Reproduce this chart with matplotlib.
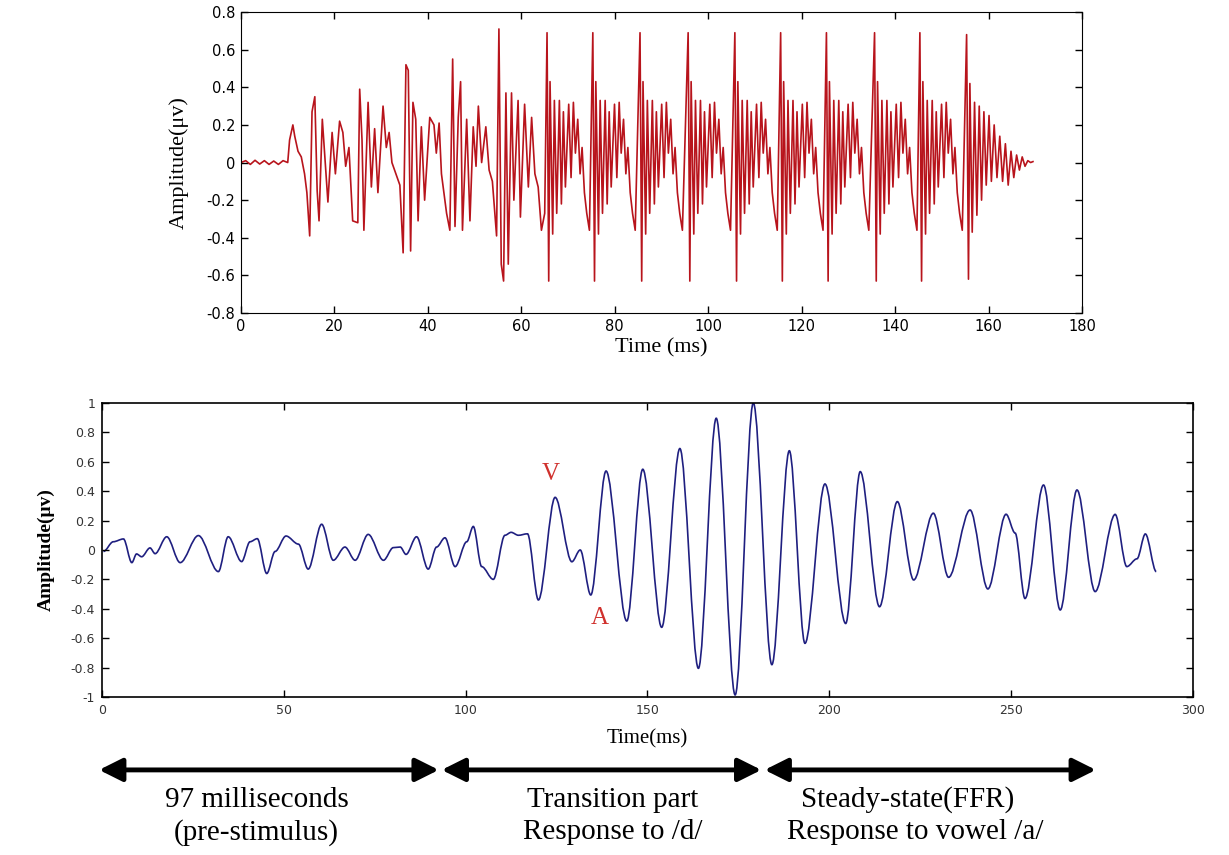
import numpy as np
import matplotlib
matplotlib.use("Agg")
import matplotlib.pyplot as plt
from matplotlib.path import Path
from matplotlib.patches import PathPatch

# ---- top panel: stimulus waveform (/da/), extrema ----
# baseline + transition (0 - 65 ms)
stim_t = [0, 1, 2, 3, 4, 5, 6, 7, 8, 9, 10,
          10.4, 11.1, 11.5, 12.2, 12.9, 13.6, 14.1, 14.7, 15.2, 15.8, 16.3, 16.7, 17.4, 18.6,
          19.5, 20.2, 21.1, 21.8, 22.4, 23.1, 23.9, 25.0, 25.4, 25.9, 26.3, 27.2, 27.9, 28.6,
          29.3, 30.4, 31.1, 31.7, 32.3, 33.3, 34.0, 34.7, 35.3, 35.8, 36.3, 36.8, 37.4, 37.9,
          38.6, 39.3, 40.4, 41.3, 41.8, 42.4, 42.9, 44.0, 44.7, 45.3, 45.8, 46.5, 47.0, 47.4,
          48.3, 49.0, 49.7, 50.3, 50.8, 51.5, 52.4, 53.1, 53.8, 54.7, 55.2, 55.7, 56.2, 56.7,
          57.2, 57.9, 58.4, 59.3, 59.8, 60.7, 61.5, 62.2, 62.9, 63.6, 64.3, 65.0]
stim_amp = [0.0, 0.01, -0.01, 0.012, -0.008, 0.01, -0.01, 0.008, -0.01, 0.01, 0.0,
            0.12, 0.2, 0.14, 0.06, 0.03, -0.06, -0.16, -0.39, 0.27, 0.35, -0.15, -0.31, 0.23, -0.21,
            0.16, -0.06, 0.22, 0.16, -0.02, 0.08, -0.31, -0.32, 0.39, 0.12, -0.36, 0.32, -0.13, 0.18,
            -0.16, 0.3, 0.08, 0.16, 0.0, -0.07, -0.12, -0.48, 0.52, 0.49, -0.47, 0.32, 0.23, -0.31,
            0.19, -0.2, 0.24, 0.2, 0.05, 0.21, -0.06, -0.27, -0.36, 0.55, -0.34, 0.24, 0.43, -0.36,
            0.23, -0.31, 0.19, -0.02, 0.3, 0.0, 0.19, -0.04, -0.1, -0.39, 0.71, -0.54, -0.63, 0.37,
            -0.54, 0.37, -0.2, 0.33, -0.29, 0.31, -0.13, 0.24, -0.06, -0.13, -0.36, -0.27]

# steady-state: one pitch period shape (ms after the big spike) and the spike times
period_t = [0, 0.36, 0.64, 1.21, 1.57, 2.07, 2.64, 3.07, 3.5, 3.93,
            4.64, 5.14, 5.64, 6.07, 6.57, 7.07, 7.5, 8.0, 8.5, 9.07]
period_amp = [0.69, -0.63, 0.43, -0.38, 0.33, -0.27, 0.33, -0.22, 0.27, -0.13,
              0.31, -0.08, 0.32, 0.05, 0.23, -0.06, 0.08, -0.16, -0.27, -0.36]
spike_times = [65.5, 75.3, 85.4, 95.7, 105.7, 115.5, 125.3, 135.6, 145.3]

# last period, dying out
tail_t = [155.3, 155.7, 156.0, 156.5, 157.0, 157.5, 158.0, 158.5, 159.0, 159.5, 160.1, 160.6,
          161.2, 161.8, 162.4, 163.0, 163.6, 164.2, 164.8, 165.4, 166.0, 166.6, 167.2, 167.8,
          168.4, 169.0, 169.5]
tail_amp = [0.68, -0.62, 0.42, -0.37, 0.32, -0.28, 0.3, -0.2, 0.27, -0.12, 0.25, -0.1,
            0.2, -0.08, 0.14, -0.1, 0.1, -0.12, 0.06, -0.08, 0.04, -0.04, 0.03, -0.02,
            0.01, 0.0, 0.005]

# ---- bottom panel: brainstem response, extrema ----
resp_t = [0.4, 3.1, 5.9, 8.2, 9.5, 10.9, 13.2, 14.6, 17.8, 21.5, 26.5, 32.0, 34.7, 38.4,
          40.7, 42.7, 45.3, 47.6, 50.6, 54.0, 56.7, 60.4, 63.6, 66.8, 69.6, 73.2, 77.4, 80.1,
          82.0, 83.6, 86.5, 89.7, 92.0, 94.3, 97.1, 100.3, 102.1, 104.4, 107.6, 110.8, 112.5,
          114.5, 117.0, 120.0, 124.6, 129.2, 131.5, 134.4, 138.6, 144.3, 148.7, 153.9, 158.9,
          164.0, 168.9, 174.1, 179.1, 184.2, 189.0, 193.3, 198.8, 204.5, 208.5, 213.8, 218.7,
          223.2, 228.6, 232.8, 238.7, 243.6, 248.6, 251.1, 253.8, 258.9, 263.5, 268.1, 273.1,
          278.6, 281.8, 284.6, 286.9, 289.9]
resp_amp = [-0.01, 0.056, 0.075, -0.086, -0.027, -0.046, 0.014, -0.025, 0.09, -0.086, 0.098,
            -0.147, 0.09, -0.079, 0.056, 0.077, -0.16, -0.01, 0.095, 0.04, -0.13, 0.175, -0.07,
            0.02, -0.07, 0.106, -0.07, 0.016, 0.02, -0.03, 0.09, -0.13, 0.02, 0.083, -0.113,
            0.056, 0.16, -0.113, -0.2, 0.1, 0.12, 0.1, 0.11, -0.34, 0.358, -0.08, 0.0, -0.306,
            0.537, -0.483, 0.549, -0.526, 0.69, -0.805, 0.896, -0.986, 1.0, -0.78, 0.675, -0.635,
            0.449, -0.5, 0.533, -0.386, 0.329, -0.204, 0.25, -0.186, 0.272, -0.265, 0.243, 0.115,
            -0.33, 0.442, -0.408, 0.408, -0.283, 0.242, -0.113, -0.06, 0.109, -0.147]

top_yticks = [-0.8, -0.6, -0.4, -0.2, 0, 0.2, 0.4, 0.6, 0.8]
top_ylabels = ['-0.8', '-0.6', '-0.4', '-0.2', '0', '0.2', '0.4', '0.6', '0.8']
top_xticks = [0, 20, 40, 60, 80, 100, 120, 140, 160, 180]
bot_yticks = [-1, -0.8, -0.6, -0.4, -0.2, 0, 0.2, 0.4, 0.6, 0.8, 1]
bot_ylabels = ['-1', '-0.8', '-0.6', '-0.4', '-0.2', '0', '0.2', '0.4', '0.6', '0.8', '1']
bot_xticks = [0, 50, 100, 150, 200, 250, 300]

segments = [(-0.8, 92.6), (93.4, 181.3), (182.2, 273.3)]
seg_line1 = ['97 milliseconds', 'Transition part', 'Steady-state(FFR)']
seg_line2 = ['(pre-stimulus)', 'Response to /d/', 'Response to vowel /a/']
seg_x1 = [42.5, 140.5, 221.5]
seg_x2 = [42.5, 140.5, 223.5]

# build the stimulus trace
t_all = list(stim_t)
a_all = list(stim_amp)
for s in spike_times:
    t_all += [s + d for d in period_t]
    a_all += period_amp
t_all += tail_t
a_all += tail_amp

serif = ['Liberation Serif', 'DejaVu Serif']

fig = plt.figure(figsize=(12.29, 8.55), dpi=100)

# top panel
ax1 = fig.add_axes([0.1961, 0.6339, 0.6843, 0.3520])
ax1.plot(t_all, a_all, color='#b8141c', lw=1.2)
ax1.set_xlim(0, 180)
ax1.set_ylim(-0.8, 0.8)
ax1.set_xticks(top_xticks)
ax1.set_yticks(top_yticks)
ax1.set_yticklabels(top_ylabels)
ax1.tick_params(direction='in', top=True, right=True, length=5, width=1,
                labelsize=10.5, pad=4)
ax1.set_xlabel('Time (ms)', family=serif, fontsize=16)
ax1.set_ylabel('Amplitude(μv)', family=serif, fontsize=16)
ax1.xaxis.set_label_coords(0.5, -0.085)
ax1.yaxis.set_label_coords(-0.062, 0.5)

# bottom panel
ax2 = fig.add_axes([0.0830, 0.1848, 0.8877, 0.3439])
# smooth trace through the read extrema (flat tangent at each read point)
verts = [(resp_t[0], resp_amp[0])]
codes = [Path.MOVETO]
for i in range(len(resp_t) - 1):
    dt = resp_t[i + 1] - resp_t[i]
    verts += [(resp_t[i] + dt / 3, resp_amp[i]),
              (resp_t[i + 1] - dt / 3, resp_amp[i + 1]),
              (resp_t[i + 1], resp_amp[i + 1])]
    codes += [Path.CURVE4] * 3
ax2.add_patch(PathPatch(Path(verts, codes), fill=False, edgecolor='#1f1f80', lw=1.2))
ax2.set_xlim(0, 300)
ax2.set_ylim(-1, 1)
ax2.set_xticks(bot_xticks)
ax2.set_yticks(bot_yticks)
ax2.set_yticklabels(bot_ylabels)
ax2.tick_params(direction='in', top=True, right=True, length=5, width=1,
                labelsize=9, labelcolor='#333333', pad=5)
ax2.set_xlabel('Time(ms)', family=serif, fontsize=15)
ax2.set_ylabel('Amplitude(μv)', family=serif, fontsize=14, fontweight='bold')
ax2.xaxis.set_label_coords(0.5, -0.11)
ax2.yaxis.set_label_coords(-0.043, 0.5)
for sp in ax2.spines.values():
    sp.set_linewidth(1.2)

ax2.text(123.3, 0.52, 'V', color='#d0312d', family=serif, fontsize=18, ha='center', va='center')
ax2.text(136.9, -0.46, 'A', color='#d0312d', family=serif, fontsize=18, ha='center', va='center')

# segment arrows and captions under the bottom panel
trans = ax2.get_xaxis_transform()
for (x0, x1) in segments:
    ax2.annotate('', xy=(x1, -0.248), xytext=(x0, -0.248), xycoords=trans, textcoords=trans,
                 annotation_clip=False,
                 arrowprops=dict(arrowstyle='<|-|>,head_length=0.7,head_width=0.35',
                                 lw=3.5, color='black', shrinkA=0, shrinkB=0,
                                 mutation_scale=20))
for x, s in zip(seg_x1, seg_line1):
    ax2.text(x, -0.35, s, transform=trans, family=serif, fontsize=21, ha='center', va='center')
for x, s in zip(seg_x2, seg_line2):
    ax2.text(x, -0.46, s, transform=trans, family=serif, fontsize=21, ha='center', va='center')

fig.savefig('out.png', dpi=100, facecolor='white')
